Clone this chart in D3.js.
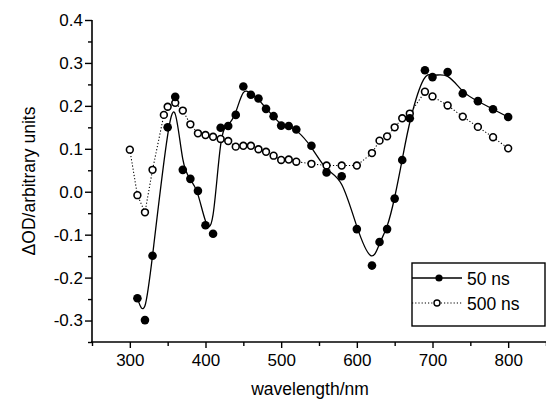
<!DOCTYPE html>
<html>
<head>
<meta charset="utf-8">
<script src="https://cdn.jsdelivr.net/npm/d3@7"></script>
<style>
  html, body { margin: 0; padding: 0; background: #fff; }
  svg { display: block; }
  text { font-family: "Liberation Sans", Arial, sans-serif; fill: #000; }
</style>
</head>
<body>
<script>
// ---- Data ----
const wl50 = [310, 320, 330, 350, 360, 370, 380, 390, 400, 410, 420, 430, 440, 450, 460, 470, 480, 490, 500, 510, 520, 540, 560, 580, 600, 620, 630, 640, 650, 660, 670, 690, 700, 720, 740, 760, 780, 800];
const od50 = [-0.248, -0.299, -0.149, 0.150, 0.221, 0.051, 0.030, 0.002, -0.078, -0.098, 0.149, 0.153, 0.179, 0.245, 0.226, 0.217, 0.193, 0.176, 0.154, 0.153, 0.145, 0.107, 0.045, 0.036, -0.087, -0.172, -0.117, -0.087, -0.016, 0.074, 0.171, 0.283, 0.267, 0.279, 0.229, 0.211, 0.192, 0.174];

const wl500 = [300, 310, 320, 330, 345, 350, 360, 370, 380, 390, 400, 410, 420, 430, 440, 450, 460, 470, 480, 490, 500, 510, 520, 540, 560, 580, 600, 620, 630, 640, 650, 660, 670, 690, 700, 720, 740, 760, 780, 800];
const od500 = [0.098, -0.008, -0.048, 0.051, 0.179, 0.198, 0.207, 0.189, 0.157, 0.136, 0.132, 0.128, 0.123, 0.118, 0.105, 0.107, 0.107, 0.099, 0.093, 0.084, 0.074, 0.075, 0.070, 0.065, 0.061, 0.061, 0.061, 0.090, 0.119, 0.129, 0.150, 0.171, 0.182, 0.233, 0.222, 0.201, 0.175, 0.151, 0.127, 0.101];

const xTicks = [300, 400, 500, 600, 700, 800];
const xMinor = [250, 350, 450, 550, 650, 750, 850];
const yTicks = [-0.3, -0.2, -0.1, 0.0, 0.1, 0.2, 0.3, 0.4];
const yMinor = [-0.35, -0.25, -0.15, -0.05, 0.05, 0.15, 0.25, 0.35];
const legendLabels = ["50 ns", "500 ns"];

// ---- Layout ----
const W = 546, H = 401;
const svg = d3.select("body").append("svg").attr("width", W).attr("height", H);

const x = d3.scaleLinear().domain([250, 850]).range([92, 546]);
const y = d3.scaleLinear().domain([-0.35, 0.4]).range([342, 20]);

const FS = 17;

// Axes
const xAxis = d3.axisBottom(x).tickValues(xTicks).tickSize(6).tickPadding(6).tickFormat(d3.format("d"));
const xAxisMinor = d3.axisBottom(x).tickValues(xMinor).tickSize(4).tickFormat("");
const yAxis = d3.axisLeft(y).tickValues(yTicks).tickSize(7).tickPadding(2).tickFormat(d => d3.format(".1f")(d).replace("−", "-"));
const yAxisMinor = d3.axisLeft(y).tickValues(yMinor).tickSize(4).tickFormat("");

function styleAxis(g) {
  g.selectAll(".domain").remove();
  g.selectAll("line").attr("stroke", "#000").attr("stroke-width", 1.4);
  g.selectAll("text").attr("font-size", FS).attr("font-family", "Liberation Sans, Arial, sans-serif");
}

svg.append("g").attr("transform", `translate(0,${y(-0.35)})`).call(xAxisMinor).call(styleAxis);
svg.append("g").attr("transform", `translate(0,${y(-0.35)})`).call(xAxis).call(styleAxis);
svg.append("g").attr("transform", `translate(${x(250)},0)`).call(yAxisMinor).call(styleAxis);
svg.append("g").attr("transform", `translate(${x(250)},0)`).call(yAxis).call(styleAxis);

// axis lines
svg.append("line").attr("x1", x(250) - 1).attr("x2", W).attr("y1", y(-0.35)).attr("y2", y(-0.35))
  .attr("stroke", "#000").attr("stroke-width", 1.6);
svg.append("line").attr("x1", x(250)).attr("x2", x(250)).attr("y1", y(0.4)).attr("y2", y(-0.35))
  .attr("stroke", "#000").attr("stroke-width", 1.6);

// Axis titles
svg.append("text").attr("x", 310).attr("y", 395).attr("text-anchor", "middle")
  .attr("font-size", FS + 0.5).text("wavelength/nm");
svg.append("text").attr("transform", `translate(35,${181}) rotate(-90)`).attr("text-anchor", "middle")
  .attr("font-size", FS + 0.5).text("ΔOD/arbitrary units");

// Series data
const d50 = wl50.map((w, i) => [w, od50[i]]);
const d500 = wl500.map((w, i) => [w, od500[i]]);

// 500 ns dotted line
svg.append("path").datum(d500)
  .attr("d", d3.line().x(d => x(d[0])).y(d => y(d[1])))
  .attr("fill", "none").attr("stroke", "#000").attr("stroke-width", 1.1).attr("stroke-dasharray", "1.2,2");

// 50 ns B-spline
svg.append("path").datum(d50)
  .attr("d", d3.line().curve(d3.curveBasis).x(d => x(d[0])).y(d => y(d[1])))
  .attr("fill", "none").attr("stroke", "#000").attr("stroke-width", 1.3);

// markers
svg.append("g").selectAll("circle").data(d500).join("circle")
  .attr("cx", d => x(d[0])).attr("cy", d => y(d[1])).attr("r", 3.4)
  .attr("fill", "#fff").attr("stroke", "#000").attr("stroke-width", 1.6);
svg.append("g").selectAll("circle").data(d50).join("circle")
  .attr("cx", d => x(d[0])).attr("cy", d => y(d[1])).attr("r", 4.3)
  .attr("fill", "#000");

// Legend
const lg = svg.append("g");
lg.append("rect").attr("x", 412).attr("y", 263).attr("width", 133).attr("height", 63)
  .attr("fill", "#fff").attr("stroke", "#000").attr("stroke-width", 1.4);
const rows = [278, 303];
lg.append("line").attr("x1", 412).attr("x2", 462).attr("y1", rows[0]).attr("y2", rows[0])
  .attr("stroke", "#000").attr("stroke-width", 1.3);
lg.append("circle").attr("cx", 439).attr("cy", rows[0]).attr("r", 3.6).attr("fill", "#000");
lg.append("line").attr("x1", 412).attr("x2", 462).attr("y1", rows[1]).attr("y2", rows[1])
  .attr("stroke", "#000").attr("stroke-width", 1.1).attr("stroke-dasharray", "1.2,2");
lg.append("circle").attr("cx", 437).attr("cy", rows[1]).attr("r", 3).attr("fill", "#fff")
  .attr("stroke", "#000").attr("stroke-width", 1.4);
legendLabels.forEach((t, i) => {
  lg.append("text").attr("x", 467).attr("y", rows[i] + 6.5).attr("font-size", FS + 0.5).text(t);
});
</script>
</body>
</html>
